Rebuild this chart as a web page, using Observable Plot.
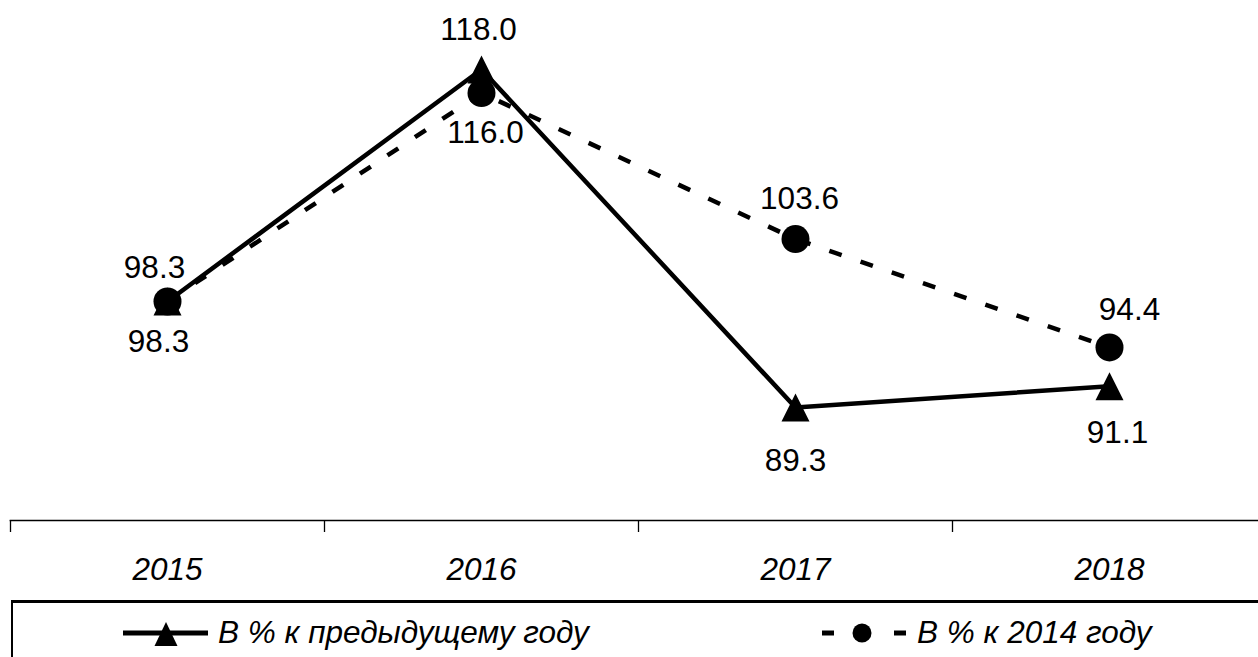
<!DOCTYPE html>
<html><head><meta charset="utf-8">
<script src="https://cdn.jsdelivr.net/npm/d3@7"></script>
<script src="https://cdn.jsdelivr.net/npm/@observablehq/plot@0.6"></script>
<style>
html,body{margin:0;padding:0;background:#fff;overflow:hidden;}
#wrap{position:relative;width:1258px;height:657px;overflow:hidden;}
#wrap svg{display:block;}
#legend{position:absolute;left:0;top:600px;}
</style></head><body><div id="wrap"></div>
<script>
const years = ["2015", "2016", "2017", "2018"];
const seriesNames = ["В % к предыдущему году", "В % к 2014 году"];
const prevYear = [98.3, 118.0, 89.3, 91.1];
const vs2014 = [98.3, 116.0, 103.6, 94.4];

const A = years.map((year, i) => ({year, series: seriesNames[0], value: prevYear[i]}));
const B = years.map((year, i) => ({year, series: seriesNames[1], value: vs2014[i]}));

const triangle = {draw(ctx, size) {
  const r = Math.sqrt(size / Math.PI);
  ctx.moveTo(0, -r); ctx.lineTo(r, r); ctx.lineTo(-r, r); ctx.closePath();
}};

const FS = 31.5;
// label placement offsets [dx, dy]
const offA = {"2015": [-9, 40], "2016": [-3, -40], "2017": [0, 53], "2018": [8, 47]};
const offB = {"2015": [-13, -34], "2016": [4, 40], "2017": [4, -40], "2018": [20, -38]};

const labelMarks = [];
for (const [arr, off] of [[A, offA], [B, offB]]) {
  for (const d of arr) {
    const [dx, dy] = off[d.year];
    labelMarks.push(Plot.text([d], {x: "year", y: "value", text: v => v.value.toFixed(1), dx, dy, fontSize: FS, fill: "#000"}));
  }
}

const chart = Plot.plot({
  width: 1258, height: 600,
  marginLeft: 10, marginRight: 0, marginTop: 0, marginBottom: 80,
  style: {fontFamily: "'Liberation Sans', Arial, sans-serif", background: "#fff", color: "#000", overflow: "visible"},
  x: {type: "point", domain: years, range: [10, 1266], padding: 0.5},
  y: {domain: [98.3, 118], range: [301, 69], axis: null},
  marks: [
    Plot.frame({anchor: "bottom", stroke: "#000", strokeWidth: 1.7}),
    Plot.axisX({tickSize: 12, tickFormat: () => "", dx: -157, stroke: "#000", strokeWidth: 1.3, label: null}),
    Plot.axisX({tickSize: 0, tickPadding: 37, fontSize: FS, fontStyle: "italic", label: null}),
    Plot.line(B, {x: "year", y: "value", stroke: "#000", strokeWidth: 4.5, strokeDasharray: "13,20", strokeLinecap: "butt"}),
    Plot.line(A, {x: "year", y: "value", stroke: "#000", strokeWidth: 4.5}),
    Plot.dot(A, {x: "year", y: "value", symbol: triangle, r: 14, fill: "#000", stroke: "none"}),
    Plot.dot(B, {x: "year", y: "value", symbol: "circle", r: 14, fill: "#000", stroke: "none"}),
    ...labelMarks
  ]
});
const wrap = document.getElementById("wrap");
wrap.appendChild(chart);

// legend (below the chart)
const ns = "http://www.w3.org/2000/svg";
const lg = document.createElementNS(ns, "svg");
lg.setAttribute("id", "legend");
lg.setAttribute("width", 1258); lg.setAttribute("height", 60);
lg.innerHTML = `
  <line x1="11" x2="1258" y1="1.5" y2="1.5" stroke="#000" stroke-width="3"/>
  <line x1="12" x2="12" y1="0" y2="60" stroke="#000" stroke-width="2"/>
  <line x1="123" x2="208" y1="33" y2="33" stroke="#000" stroke-width="5"/>
  <path d="M166,22L177.5,46L154.5,46Z" fill="#000"/>
  <text x="218" y="43" font-size="${FS}" font-style="italic" font-family="'Liberation Sans', Arial, sans-serif" fill="#000">${seriesNames[0]}</text>
  <line x1="822" x2="834" y1="33" y2="33" stroke="#000" stroke-width="5"/>
  <circle cx="862" cy="33" r="9.5" fill="#000"/>
  <line x1="894" x2="906" y1="33" y2="33" stroke="#000" stroke-width="5"/>
  <text x="917" y="43" font-size="${FS}" font-style="italic" font-family="'Liberation Sans', Arial, sans-serif" fill="#000">${seriesNames[1]}</text>`;
wrap.appendChild(lg);
</script></body></html>
